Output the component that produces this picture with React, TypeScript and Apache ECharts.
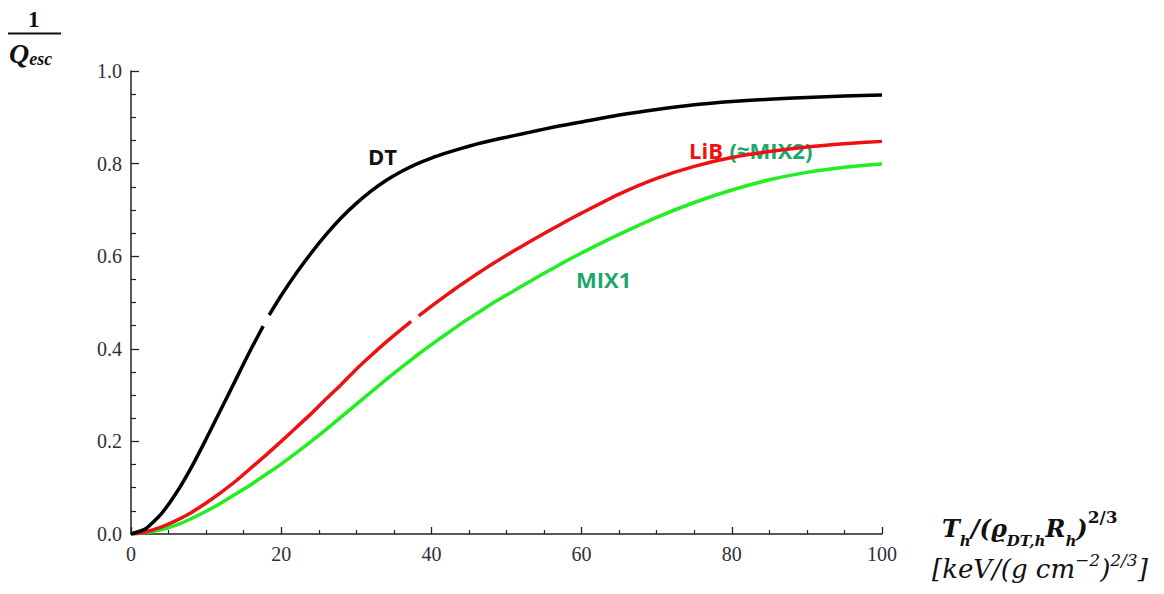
import React, { useEffect, useRef } from "react";
import * as echarts from "echarts";

// x values (T_h / (rho R)^(2/3)) and 1/Q_esc for each mixture; null = gap in the curve
const dtX = [0, 2, 4, 6, 8, 10, 12, 14, 16, 17.6, 17.7, 18.4, 20, 22, 24, 26, 28, 30, 32, 34, 36, 38, 40, 42, 44, 46, 48, 50, 52, 54, 56, 58, 60, 65, 70, 75, 80, 85, 90, 95, 100];
const dtY: (number | null)[] = [0, 0.012, 0.043, 0.088, 0.143, 0.205, 0.27, 0.335, 0.4, 0.449, null, 0.473, 0.515, 0.563, 0.607, 0.647, 0.683, 0.714, 0.741, 0.764, 0.783, 0.799, 0.812, 0.823, 0.833, 0.842, 0.85, 0.857, 0.864, 0.871, 0.878, 0.884, 0.89, 0.905, 0.917, 0.927, 0.934, 0.939, 0.943, 0.946, 0.948];

const libX = [0, 2, 4, 6, 8, 10, 12, 14, 16, 18, 20, 22, 24, 26, 28, 30, 32, 34, 36, 37.3, 37.4, 38.3, 40, 42, 44, 46, 48, 50, 52, 54, 56, 58, 60, 65, 70, 75, 80, 85, 90, 95, 100];
const libY: (number | null)[] = [0, 0.005, 0.015, 0.029, 0.046, 0.067, 0.09, 0.115, 0.143, 0.171, 0.2, 0.23, 0.26, 0.292, 0.323, 0.356, 0.386, 0.415, 0.442, 0.459, null, 0.471, 0.492, 0.516, 0.539, 0.561, 0.582, 0.602, 0.621, 0.64, 0.658, 0.676, 0.693, 0.734, 0.768, 0.794, 0.813, 0.826, 0.836, 0.843, 0.848];

const mix1X = [0, 2, 4, 6, 8, 10, 12, 14, 16, 18, 20, 22, 24, 26, 28, 30, 32, 34, 36, 38, 40, 42, 44, 46, 48, 50, 52, 54, 56, 58, 60, 65, 70, 75, 80, 85, 90, 95, 100];
const mix1Y = [0, 0.003, 0.009, 0.019, 0.033, 0.049, 0.067, 0.087, 0.107, 0.129, 0.151, 0.175, 0.2, 0.226, 0.253, 0.28, 0.307, 0.334, 0.36, 0.385, 0.409, 0.432, 0.455, 0.476, 0.497, 0.516, 0.535, 0.554, 0.572, 0.59, 0.607, 0.647, 0.684, 0.716, 0.743, 0.765, 0.781, 0.792, 0.799];

const xTicks = [0, 20, 40, 60, 80, 100];
const yTicks = [0, 0.2, 0.4, 0.6, 0.8, 1.0];

const zip = (xs: number[], ys: (number | null)[]) =>
  xs.map((x, i) => (ys[i] === null ? [x, null] : [x, ys[i]]));

const SERIF = "'Liberation Serif', 'DejaVu Serif', serif";
const MATH = "'DejaVu Serif', 'Liberation Serif', serif";
const SANS = "'Open Sans', Lato, sans-serif";

export default function App() {
  const ref = useRef<HTMLDivElement>(null);
  useEffect(() => {
    if (!ref.current) return;
    const chart = echarts.init(ref.current, undefined, { renderer: "svg" });
    const axisColor = "#222";
    const labelStyle = { color: "#2e2e3a", fontFamily: SERIF, fontSize: 20 };
    const lineCommon = { type: "line", smooth: 0.2, showSymbol: false, connectNulls: false };
    chart.setOption({
      animation: false,
      backgroundColor: "#fff",
      grid: { left: 131, top: 71, right: 282, bottom: 60, containLabel: false },
      xAxis: {
        type: "value",
        min: xTicks[0],
        max: xTicks[xTicks.length - 1],
        interval: 20,
        axisLine: { show: true, lineStyle: { color: axisColor, width: 1.5 } },
        axisTick: { show: true, inside: true, length: 7, lineStyle: { color: axisColor, width: 1.3 } },
        minorTick: { show: true, splitNumber: 4, length: 4, lineStyle: { color: axisColor, width: 1.2 } },
        splitLine: { show: false },
        axisLabel: { ...labelStyle, margin: 10, formatter: (v: number) => String(v) },
      },
      yAxis: {
        type: "value",
        min: yTicks[0],
        max: yTicks[yTicks.length - 1],
        interval: 0.2,
        axisLine: { show: true, lineStyle: { color: axisColor, width: 1.5 } },
        axisTick: { show: true, inside: true, length: 8, lineStyle: { color: axisColor, width: 1.3 } },
        minorTick: { show: true, splitNumber: 4, length: 5, lineStyle: { color: axisColor, width: 1.2 } },
        splitLine: { show: false },
        axisLabel: { ...labelStyle, margin: 9, formatter: (v: number) => v.toFixed(1) },
      },
      series: [
        { ...lineCommon, name: "MIX1", data: zip(mix1X, mix1Y), lineStyle: { color: "#22ee22", width: 3.5 }, z: 2 },
        { ...lineCommon, name: "LiB", data: zip(libX, libY), lineStyle: { color: "#ee1111", width: 3.5 }, z: 3 },
        { ...lineCommon, name: "DT", data: zip(dtX, dtY), lineStyle: { color: "#000", width: 3.5 }, z: 4 },
      ],
      graphic: [
        // y-axis title: 1 / Q_esc
        {
          type: "text",
          left: 28,
          top: 8,
          style: { text: "1", font: `bold 23px ${SERIF}`, fill: "#111" },
        },
        {
          type: "line",
          shape: { x1: 8, y1: 33.5, x2: 61, y2: 33.5 },
          style: { stroke: "#111", lineWidth: 2 },
        },
        {
          type: "text",
          left: 9,
          top: 39,
          style: {
            text: "{q|Q}{s|esc}",
            rich: {
              q: { font: `italic bold 28px ${SERIF}`, fill: "#111", lineHeight: 30, verticalAlign: "middle" },
              s: { font: `italic bold 18px ${SERIF}`, fill: "#111", lineHeight: 18, verticalAlign: "bottom" },
            },
          },
        },
        // x-axis title
        {
          type: "text",
          left: 942,
          top: 508,
          style: {
            text: "{b|T}{bs|h}{b|/(}{b|ϱ}{bs|DT,h}{b|R}{bs|h}{b|)}{bp|2/3}",
            rich: {
              b: { font: `italic bold 24px ${MATH}`, fill: "#111", lineHeight: 40, verticalAlign: "middle" },
              bs: { font: `italic bold 15px ${MATH}`, fill: "#111", lineHeight: 17, verticalAlign: "bottom" },
              bp: { font: `bold 17px ${MATH}`, fill: "#111", lineHeight: 17, verticalAlign: "top" },
            },
          },
        },
        {
          type: "text",
          left: 932,
          top: 551,
          style: {
            text: "{i|[keV/(g cm}{p|−2}{i|)}{p|2/3}{i|]}",
            rich: {
              i: { font: `italic 26px ${MATH}`, fill: "#111", lineHeight: 36, verticalAlign: "middle" },
              p: { font: `italic 17px ${MATH}`, fill: "#111", lineHeight: 17, verticalAlign: "top" },
            },
          },
        },
        // curve labels
        {
          type: "text",
          left: 368,
          top: 145,
          style: { text: "DT", font: `bold 22px ${SANS}`, fill: "#111" },
        },
        {
          type: "text",
          left: 689,
          top: 139,
          style: {
            text: "{r|LiB}  {g|(≈MIX2)}",
            rich: {
              r: { font: `bold 22px ${SANS}`, fill: "#ee1111" },
              g: { font: `bold 22px ${SANS}`, fill: "#1aa86c" },
            },
          },
        },
        {
          type: "text",
          left: 576,
          top: 268,
          style: { text: "MIX1", font: `bold 22px ${SANS}`, fill: "#1aa86c" },
        },
      ],
    });
    return () => chart.dispose();
  }, []);
  return (
    <div
      ref={ref}
      style={{ position: "fixed", left: 0, top: 0, width: 1164, height: 594, background: "#fff" }}
    />
  );
}
